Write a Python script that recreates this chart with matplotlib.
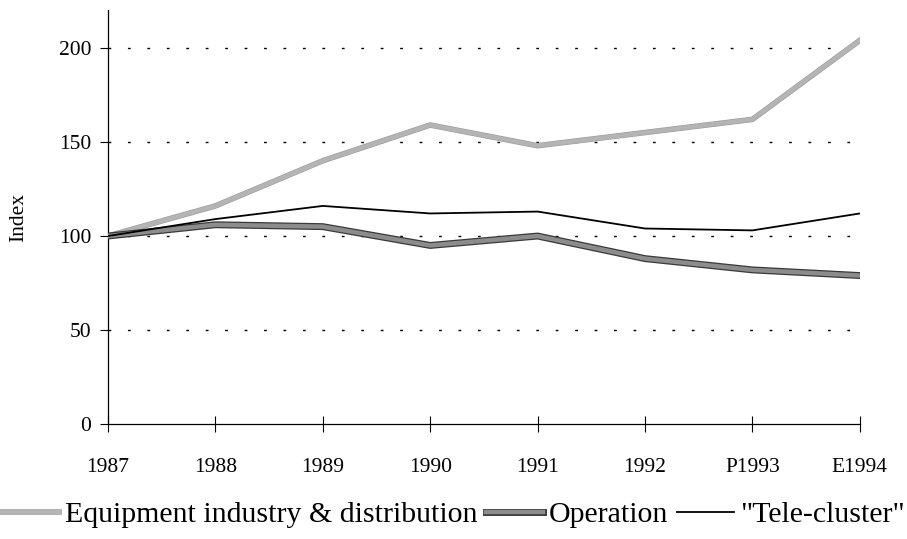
import matplotlib.pyplot as plt
import matplotlib.patheffects as pe
import numpy as np

# Data
years = ['1987', '1988', '1989', '1990', '1991', '1992', 'P1993', 'E1994']
equipment = [100, 116, 140, 159, 148, 155, 162, 204]
operation = [100, 106, 105, 95, 100, 88, 82, 79]
tele_cluster = [100, 109, 116, 112, 113, 104, 103, 112]

plt.rcParams['font.family'] = ['Liberation Serif', 'DejaVu Serif']

fig = plt.figure(figsize=(9.07, 5.39), dpi=100)
ax = fig.add_axes([0.119, 0.213, 0.829, 0.768])

x = np.arange(len(years))

ax.plot(x, equipment, color='#b4b4b4', lw=3.2,
        path_effects=[pe.Stroke(linewidth=4, foreground='#9a9a9a'), pe.Normal()],
        label='Equipment industry & distribution', zorder=3)
ax.plot(x, operation, color='#8c8c8c', lw=3.2,
        path_effects=[pe.Stroke(linewidth=5, foreground='#3a3a3a'), pe.Normal()],
        label='Operation', zorder=3)
ax.plot(x, tele_cluster, color='black', lw=1.3, label='"Tele-cluster"', zorder=4)

ax.set_xlim(0, len(years) - 1)
ax.set_ylim(0, 220)
ax.set_yticks([0, 50, 100, 150, 200])
ax.set_xticks(x)
ax.set_xticklabels(years)

# sparse dotted gridlines
for v in [50, 100, 150, 200]:
    ax.axhline(v, color='black', lw=1.0, ls=(0, (2, 12)), zorder=1)

ax.spines['top'].set_visible(False)
ax.spines['right'].set_visible(False)
ax.spines['left'].set_linewidth(0.9)
ax.spines['bottom'].set_linewidth(0.9)
ax.tick_params(axis='x', direction='inout', length=12, width=0.8, labelsize=15.5, pad=18)
ax.tick_params(axis='y', direction='out', length=6, width=0.8, labelsize=15.5, pad=6)

ax.set_ylabel('Index', fontsize=15.5, labelpad=22)

fig.legend(loc='lower center', bbox_to_anchor=(0.5, -0.03), ncol=3, frameon=False,
           fontsize=21.5, handlelength=1.9, handletextpad=0.2, columnspacing=0.3)

fig.savefig('out.png', dpi=100)
